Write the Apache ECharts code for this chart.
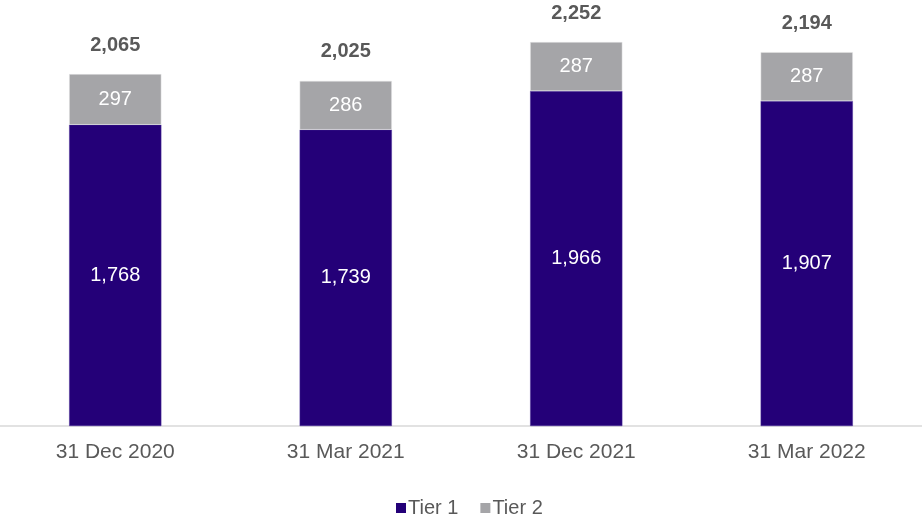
<!DOCTYPE html>
<html>
<head>
<meta charset="utf-8">
<script src="https://cdn.jsdelivr.net/npm/echarts@6/dist/echarts.min.js"></script>
<style>html,body{margin:0;padding:0;background:#fff;}#c{width:922px;height:517px;}</style>
</head>
<body>
<div id="c"></div>
<script>
const categories = ['31 Dec 2020', '31 Mar 2021', '31 Dec 2021', '31 Mar 2022'];
const tier1 = [1768, 1739, 1966, 1907];
const tier2 = [297, 286, 287, 287];
const totals = [2065, 2025, 2252, 2194];

const fmt = v => v.toLocaleString('en-US');
const chart = echarts.init(document.getElementById('c'));
chart.setOption({
  animation: false,
  textStyle: { fontFamily: 'Liberation Sans, Arial, sans-serif' },
  grid: { left: 0, right: 0, top: 0, bottom: 91 },
  legend: {
    data: ['Tier 1', 'Tier 2'],
    left: 391, top: 493,
    itemWidth: 10, itemHeight: 10, itemGap: 22,
    itemStyle: { borderWidth: 0 },
    textStyle: { color: '#595959', fontSize: 20, padding: [0, 0, 0, -3] },
    icon: 'rect'
  },
  xAxis: {
    type: 'category', data: categories,
    axisLine: { lineStyle: { color: '#d9d9d9', width: 1.5 } },
    axisTick: { show: false },
    axisLabel: { color: '#595959', fontSize: 21, margin: 16 }
  },
  yAxis: { type: 'value', min: 0, max: 2500, show: false, splitLine: { show: false } },
  series: [
    {
      name: 'Tier 1', type: 'bar', stack: 's', data: tier1, barWidth: '40%',
      itemStyle: { color: '#240078', borderColor: '#4a2f99', borderWidth: 0.5 },
      label: { show: true, position: 'inside', color: '#fff', fontSize: 20, formatter: p => fmt(p.value) }
    },
    {
      name: 'Tier 2', type: 'bar', stack: 's', data: tier2, barWidth: '40%',
      itemStyle: { color: '#a5a5a8', borderColor: '#e6e6e6', borderWidth: 0.5 },
      label: { show: true, position: 'inside', color: '#fff', fontSize: 20, formatter: p => fmt(p.value) }
    },
    {
      name: 'Total', type: 'bar', data: totals, barWidth: '40%', barGap: '-100%',
      itemStyle: { color: 'rgba(0,0,0,0)' }, silent: true, z: 1,
      label: { show: true, position: 'top', distance: 19, color: '#595959', fontSize: 20, fontWeight: 'bold', formatter: p => fmt(p.value) }
    }
  ]
});
</script>
</body>
</html>
